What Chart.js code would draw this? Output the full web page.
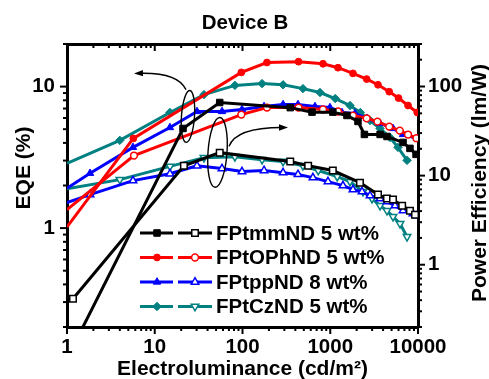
<!DOCTYPE html>
<html>
<head>
<meta charset="utf-8">
<script src="https://cdn.jsdelivr.net/npm/chart.js@4"></script>
<style>
  html, body { margin: 0; padding: 0; background: #fff; }
  canvas { display: block; }
</style>
</head>
<body>
<canvas id="c" width="489" height="379"></canvas>
<script>
// ===== DATA =====
// FPtmmND 5 wt%
const lumTmmEqe = [1.33, 21, 55, 350, 620, 1070, 1550, 2070, 2450, 3700, 4430, 6750, 8100, 9500];
const eqeTmm    = [0.17, 5.06, 7.72, 7.1, 6.6, 6.6, 6.25, 5.67, 4.59, 4.59, 4.44, 4.03, 3.66, 3.32];
const lumTmmPe  = [1.17, 21.5, 55, 350, 560, 1070, 2180, 3500, 4430, 5190, 6600, 8100, 9250];
const peTmm     = [0.415, 12.9, 18.1, 14.4, 12.9, 11.4, 8.34, 6.12, 5.52, 5.38, 4.6, 4.04, 3.64];

// FPtOPhND 5 wt%
const lumOphEqe = [1, 5.7, 97, 190, 435, 827, 1225, 1815, 2600, 3500, 4700, 6000, 7700, 9800];
const eqeOph    = [1.02, 4.3, 12.6, 14.8, 15.0, 14.5, 13.6, 12.4, 11.3, 10.3, 9.2, 8.3, 7.35, 6.56];
const lumOphPe  = [1, 5.8, 97, 190, 435, 827, 1225, 1815, 2600, 3450, 4700, 6200, 7700, 9600];
const peOph     = [4.15, 16.8, 48.4, 58.1, 58.1, 55.2, 52.4, 47.2, 44.0, 40.4, 35.5, 32.0, 28.9, 26.3];

// FPtppND 8 wt%
const lumTppEqe = [1, 1.83, 5.65, 14.9, 30.3, 58.4, 98.7, 176, 290, 429, 670, 993, 1361, 1914, 2622, 3690, 5190, 6745, 9750];
const eqeTpp    = [1.91, 2.44, 3.72, 5.14, 6.67, 6.67, 6.89, 7.23, 7.47, 7.47, 7.23, 7.11, 6.56, 6.45, 5.96, 5.49, 5.06, 4.59, 4.3];
const lumTppPe  = [1, 1.83, 5.65, 14.9, 30.3, 58.4, 98.7, 176, 290, 429, 635, 942, 1397, 1815, 2301, 2838, 3690, 4433, 5470, 6745, 8770, 9750];
const peTpp     = [4.97, 6.12, 8.79, 10.5, 12.9, 12.0, 11.1, 11.4, 10.8, 10.3, 9.5, 8.57, 7.72, 6.96, 6.61, 5.96, 5.52, 5.1, 4.6, 4.04, 3.74, 3.55];

// FPtCzND 5 wt%
const lumCzEqe = [1, 4.0, 14.9, 36.4, 82, 167, 290, 489, 764, 1140, 1680, 2200, 2840, 3690, 4800, 5910, 7500];
const eqeCz    = [2.87, 4.17, 6.56, 8.78, 10.2, 10.5, 10.3, 9.68, 9.08, 8.23, 7.35, 6.56, 5.76, 5.06, 4.37, 3.72, 3.01];
const lumCzPe  = [1, 4.0, 14.9, 36.4, 82, 167, 290, 489, 730, 1200, 1680, 2360, 2990, 3690, 4430, 5190, 6240, 7500];
const peCz     = [7.14, 9.02, 12.7, 15.9, 16.3, 15.1, 14.4, 12.9, 11.4, 9.74, 8.57, 6.61, 5.52, 4.6, 4.04, 3.46, 2.89, 2.06];

// axes
const xMajor   = [1, 10, 100, 1000, 10000];
const eqeMajor = [1, 10];
const peMajor  = [1, 10, 100];

// ===== STYLE =====
const FONT_FAMILY = '"Liberation Sans", Arial, sans-serif';
const BLACK = '#000000', RED = '#ff0000', BLUE = '#0000ff', TEAL = '#008080';

const SERIES = [
  { name: 'FPtmmND 5 wt%',  color: BLACK, fillStyle: 'rect',     openStyle: 'rect',     fillRot: 0, openRot: 0,   fr: 4.6, or: 4.6,
    eqe: [lumTmmEqe, eqeTmm], pe: [lumTmmPe, peTmm] },
  { name: 'FPtOPhND 5 wt%', color: RED,   fillStyle: 'circle',   openStyle: 'circle',   fillRot: 0, openRot: 0,   fr: 3.4, or: 3.4,
    eqe: [lumOphEqe, eqeOph], pe: [lumOphPe, peOph] },
  { name: 'FPtppND 8 wt%',  color: BLUE,  fillStyle: 'triangle', openStyle: 'triangle', fillRot: 0, openRot: 0,   fr: 4.3, or: 4.3,
    eqe: [lumTppEqe, eqeTpp], pe: [lumTppPe, peTpp] },
  { name: 'FPtCzND 5 wt%',  color: TEAL,  fillStyle: 'rectRot',  openStyle: 'triangle', fillRot: 0, openRot: 180, fr: 4.2, or: 4.3,
    eqe: [lumCzEqe, eqeCz], pe: [lumCzPe, peCz] },
];

// annotation anchors, in data units (x: cd/m2, y: EQE %)
const ELLIPSES = [
  { x: 23.9, y: 6.15, rx: 6.5, ry: 26, rot: 0.07 },
  { x: 51.9, y: 3.43, rx: 9.5, ry: 35, rot: 0.07 },
];
const ARROWS = [
  { s: [22.7, 9.52], c: [18.4, 12.6], e: [5.8, 12.4] },
  { s: [70.2, 3.78], c: [84.3, 5.14], e: [330, 5.14] },
];

function pts(xs, ys) { return xs.map((v, i) => ({ x: v, y: ys[i] })); }

function logTicks(min, max, majors) {
  const out = [];
  for (let e = Math.floor(Math.log10(min)); e <= Math.ceil(Math.log10(max)); e++) {
    for (let m = 1; m < 10; m++) {
      const v = +(m * Math.pow(10, e)).toPrecision(3);
      if (v >= min * 0.999 && v <= max * 1.001) out.push({ value: v, major: majors.includes(v) });
    }
  }
  return out;
}

// ===== DATASETS =====
const datasets = [];
SERIES.forEach(s => {
  datasets.push({
    label: s.name + ' EQE',
    data: pts(s.eqe[0], s.eqe[1]),
    yAxisID: 'y',
    borderColor: s.color, borderWidth: 3, tension: 0, fill: false,
    pointStyle: s.fillStyle, pointRotation: s.fillRot,
    pointRadius: c => (c.raw && c.raw.x <= 1) ? 0 : s.fr,
    pointBackgroundColor: s.color, pointBorderColor: s.color, pointBorderWidth: 1,
  });
  datasets.push({
    label: s.name + ' PE',
    data: pts(s.pe[0], s.pe[1]),
    yAxisID: 'y2',
    borderColor: s.color, borderWidth: 3, tension: 0, fill: false,
    pointStyle: s.openStyle, pointRotation: s.openRot,
    pointRadius: c => (c.raw && c.raw.x <= 1) ? 0 : s.or,
    pointBackgroundColor: '#ffffff', pointBorderColor: s.color, pointBorderWidth: 1.5,
  });
});

// ===== DECORATION PLUGIN: ticks, titles, legend, ellipses, arrows =====
const decor = {
  id: 'decor',
  afterDraw(chart) {
    const { ctx, chartArea: a, scales } = chart;
    const { x, y, y2 } = scales;
    ctx.save();
    ctx.strokeStyle = BLACK;
    ctx.fillStyle = BLACK;
    ctx.lineCap = 'butt';

    const seg = (x1, y1, x2, y2_) => { ctx.beginPath(); ctx.moveTo(x1, y1); ctx.lineTo(x2, y2_); ctx.stroke(); };

    // ---- ticks ----
    x.ticks.forEach(t => {
      const px = x.getPixelForValue(t.value);
      ctx.lineWidth = 2;
      const len = t.major ? 7 : 4;
      seg(px, a.bottom, px, a.bottom + len);
      seg(px, a.top, px, a.top + len);
    });
    y.ticks.forEach(t => {
      const py = y.getPixelForValue(t.value);
      ctx.lineWidth = 2;
      seg(a.left, py, a.left - (t.major ? 7 : 4), py);
    });
    y2.ticks.forEach(t => {
      const py = y2.getPixelForValue(t.value);
      ctx.lineWidth = 2;
      seg(a.right, py, a.right + (t.major ? 7 : 4), py);
    });

    // ---- ellipses ----
    ctx.lineWidth = 1.4;
    ELLIPSES.forEach(el => {
      ctx.beginPath();
      ctx.ellipse(x.getPixelForValue(el.x), y.getPixelForValue(el.y), el.rx, el.ry, el.rot, 0, Math.PI * 2);
      ctx.stroke();
    });

    // ---- arrows ----
    ARROWS.forEach(ar => {
      const S = [x.getPixelForValue(ar.s[0]), y.getPixelForValue(ar.s[1])];
      const C = [x.getPixelForValue(ar.c[0]), y.getPixelForValue(ar.c[1])];
      const E = [x.getPixelForValue(ar.e[0]), y.getPixelForValue(ar.e[1])];
      const ang = Math.atan2(E[1] - C[1], E[0] - C[0]);
      const back = [E[0] - Math.cos(ang) * 6, E[1] - Math.sin(ang) * 6];
      ctx.lineWidth = 1.4;
      ctx.beginPath();
      ctx.moveTo(S[0], S[1]);
      ctx.quadraticCurveTo(C[0], C[1], back[0], back[1]);
      ctx.stroke();
      ctx.beginPath();
      ctx.moveTo(E[0], E[1]);
      ctx.lineTo(E[0] - Math.cos(ang) * 9 + Math.sin(ang) * 3.2, E[1] - Math.sin(ang) * 9 - Math.cos(ang) * 3.2);
      ctx.lineTo(E[0] - Math.cos(ang) * 9 - Math.sin(ang) * 3.2, E[1] - Math.sin(ang) * 9 + Math.cos(ang) * 3.2);
      ctx.closePath();
      ctx.fill();
    });

    // ---- legend ----
    SERIES.forEach((s, i) => {
      const ry = a.top + 189 + i * 24.5;
      const lx = a.left + 73;
      ctx.strokeStyle = s.color;
      ctx.lineWidth = 3;
      seg(lx, ry, lx + 33, ry);
      seg(lx + 38, ry, lx + 72, ry);
      ctx.fillStyle = s.color;
      ctx.lineWidth = 1;
      Chart.helpers.drawPoint(ctx, { pointStyle: s.fillStyle, radius: s.fr, rotation: s.fillRot, borderWidth: 1 }, lx + 17, ry);
      ctx.fillStyle = '#ffffff';
      ctx.lineWidth = 1.5;
      Chart.helpers.drawPoint(ctx, { pointStyle: s.openStyle, radius: s.or, rotation: s.openRot, borderWidth: 1.5 }, lx + 55, ry);
      ctx.fillStyle = BLACK;
      ctx.font = 'bold 20.5px ' + FONT_FAMILY;
      ctx.textAlign = 'left';
      ctx.textBaseline = 'middle';
      ctx.fillText(s.name, lx + 76, ry + 1);
    });

    // ---- titles ----
    ctx.fillStyle = BLACK;
    ctx.textAlign = 'center';
    ctx.textBaseline = 'middle';
    ctx.font = 'bold 20.5px ' + FONT_FAMILY;
    ctx.fillText('Device B', 245, 23);

    ctx.font = 'bold 21px ' + FONT_FAMILY;
    ctx.fillText('Electroluminance (cd/m\u00B2)', (a.left + a.right) / 2, 369);

    ctx.save();
    ctx.translate(24, 168);
    ctx.rotate(-Math.PI / 2);
    ctx.fillText('EQE (%)', 0, 0);
    ctx.restore();

    ctx.save();
    ctx.translate(480, 183);
    ctx.rotate(-Math.PI / 2);
    ctx.fillText('Power Efficiency (lm/W)', 0, 0);
    ctx.restore();

    ctx.restore();
  }
};

// ===== CHART =====
const tickFont = { family: FONT_FAMILY, size: 20.5, weight: 'bold' };
const borderOpts = { display: true, color: BLACK, width: 3 };
const noGrid = { display: false, drawTicks: false };

new Chart(document.getElementById('c'), {
  type: 'line',
  data: { datasets },
  options: {
    responsive: false,
    animation: false,
    events: [],
    layout: { padding: 0 },
    plugins: { legend: { display: false }, tooltip: { enabled: false }, title: { display: false } },
    scales: {
      x: {
        type: 'logarithmic', position: 'bottom', min: 1, max: 10000,
        afterFit: s => { s.height = 52; },
        afterBuildTicks: s => { s.ticks = logTicks(1, 10000, xMajor); },
        grid: noGrid, border: borderOpts,
        ticks: { font: tickFont, color: BLACK, padding: 8, autoSkip: false, maxRotation: 0,
                 callback: v => xMajor.includes(v) ? String(v) : '' },
      },
      x2: {
        type: 'logarithmic', position: 'top', min: 1, max: 10000,
        afterFit: s => { s.height = 44; },
        grid: noGrid, border: borderOpts,
        ticks: { display: false },
      },
      y: {
        type: 'logarithmic', position: 'left', min: 0.2, max: 20,
        afterFit: s => { s.width = 67; },
        afterBuildTicks: s => { s.ticks = logTicks(0.2, 20, eqeMajor); },
        grid: noGrid, border: borderOpts,
        ticks: { font: tickFont, color: BLACK, padding: 12, autoSkip: false,
                 callback: v => eqeMajor.includes(v) ? String(v) : '' },
      },
      y2: {
        type: 'logarithmic', position: 'right', min: 0.2, max: 300,
        afterFit: s => { s.width = 71; },
        afterBuildTicks: s => { s.ticks = logTicks(0.2, 300, peMajor); },
        grid: noGrid, border: borderOpts,
        ticks: { font: tickFont, color: BLACK, padding: 10, autoSkip: false,
                 callback: v => peMajor.includes(v) ? String(v) : '' },
      },
    },
  },
  plugins: [decor],
});
</script>
</body>
</html>
